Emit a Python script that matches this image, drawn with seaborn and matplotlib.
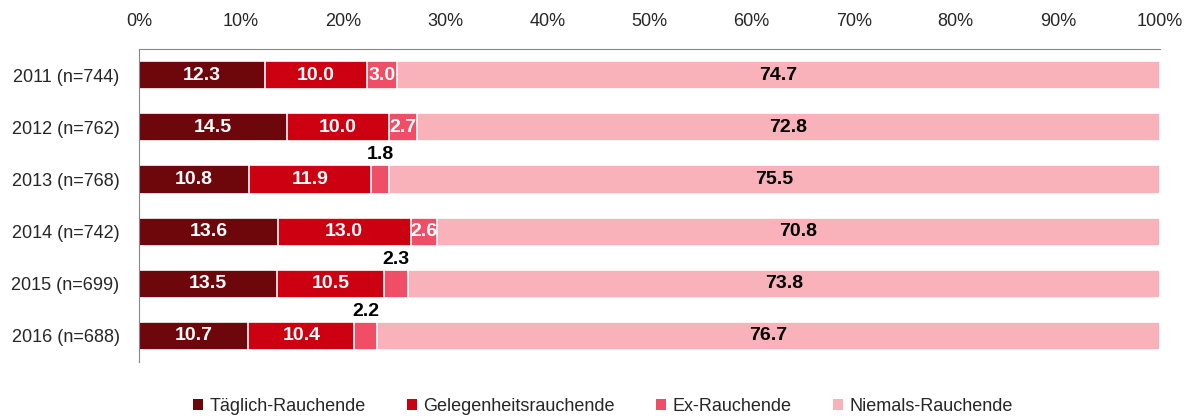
import numpy as np
import pandas as pd
import matplotlib
matplotlib.use("Agg")
import matplotlib.pyplot as plt
import seaborn as sns
from matplotlib.patches import Patch

# Daten
jahre = ["2011 (n=744)", "2012 (n=762)", "2013 (n=768)", "2014 (n=742)", "2015 (n=699)", "2016 (n=688)"]
taeglich = [12.3, 14.5, 10.8, 13.6, 13.5, 10.7]
gelegentlich = [10.0, 10.0, 11.9, 13.0, 10.5, 10.4]
ex = [3.0, 2.7, 1.8, 2.6, 2.3, 2.2]
niemals = [74.7, 72.8, 75.5, 70.8, 73.8, 76.7]

kategorien = ["Täglich-Rauchende", "Gelegenheitsrauchende", "Ex-Rauchende", "Niemals-Rauchende"]
farben = ["#6E070B", "#CC0010", "#F04E66", "#F9B2BA"]

sns.set_style("white")
plt.rcParams["font.family"] = ["Liberation Sans", "DejaVu Sans"]

df = pd.DataFrame({"Jahr": jahre, kategorien[0]: taeglich, kategorien[1]: gelegentlich,
                   kategorien[2]: ex, kategorien[3]: niemals})
werte = df[kategorien]
kum = werte.cumsum(axis=1)
# Balkenende bei 100%
kum[kategorien[3]] = kum[kategorien[3]].clip(upper=100)

fig = plt.figure(figsize=(11.94, 4.19), dpi=100)
ax = fig.add_axes([0.1164, 0.136, 0.8551, 0.747])

# gestapelt: von hinten (Summe) nach vorne zeichnen
for kat, farbe in reversed(list(zip(kategorien, farben))):
    sns.barplot(x=kum[kat], y=df["Jahr"], color=farbe, orient="h", width=0.54,
                edgecolor="white", linewidth=1.2, ax=ax, saturation=1)

ax.set_xlim(0, 100)
ax.set_ylim(5.5, -0.5)
ax.xaxis.tick_top()
ax.set_xticks(np.arange(0, 101, 10))
ax.set_xticklabels([f"{t}%" for t in range(0, 101, 10)], fontsize=13)
ax.tick_params(axis="y", labelsize=13, length=0, pad=14)
ax.tick_params(axis="x", length=0, pad=14)
ax.set_xlabel("")
ax.set_ylabel("")
for s in ["right", "bottom"]:
    ax.spines[s].set_visible(False)
ax.spines["left"].set_color("#888888")
ax.spines["top"].set_color("#888888")

# Beschriftungen
for i in range(len(jahre)):
    start = 0
    for k, kat in enumerate(kategorien):
        v = werte.iloc[i, k]
        mitte = start + v / 2
        if v < 2.5:
            ax.text(mitte, i - 0.47, f"{v:.1f}", ha="center", va="center",
                    fontsize=14, fontweight="bold", color="black")
        else:
            col = "black" if k == 3 else "white"
            ax.text(mitte, i, f"{v:.1f}", ha="center", va="center",
                    fontsize=14, fontweight="bold", color=col)
        start += v

handles = [Patch(facecolor=f, edgecolor="none") for f in farben]
fig.legend(handles, kategorien, loc="lower center", ncol=4, frameon=False,
           bbox_to_anchor=(0.505, -0.03), fontsize=13, handlelength=0.55, handleheight=0.55,
           handletextpad=0.35, columnspacing=2.3)

fig.savefig("out.png", dpi=100)
